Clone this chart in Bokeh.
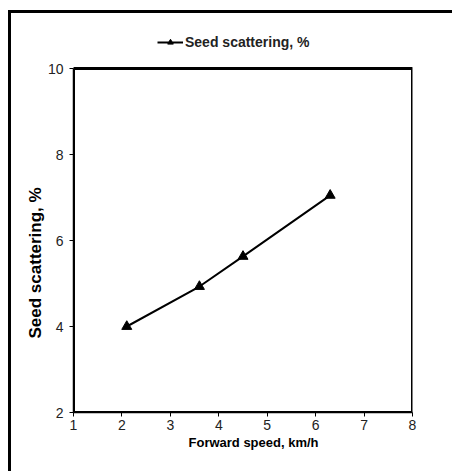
from bokeh.plotting import figure
from bokeh.models import Legend, LegendItem, FixedTicker, Range1d, Title
from bokeh.embed import file_html
from bokeh.resources import INLINE

speed = [2.1, 3.6, 4.5, 6.3]
scattering = [4.0, 4.93, 5.63, 7.05]
x_ticks = [1, 2, 3, 4, 5, 6, 7, 8]
y_ticks = [2, 4, 6, 8, 10]
x_label = "Forward speed, km/h"
y_label = "Seed scattering, %"
series_name = "Seed scattering, %"

SANS = "'Liberation Sans', Arial, sans-serif"

# frame extends above the y=10 line to host the legend (axis bounded to 2..10)
p = figure(width=444, height=461, output_backend="svg", toolbar_location=None,
           x_range=Range1d(x_ticks[0], x_ticks[-1]), y_range=Range1d(y_ticks[0], 10.814),
           min_border_left=62, min_border_right=43, min_border_top=20, min_border_bottom=62)
p.styles = {"border-left": "3px solid black", "border-top": "3px solid black",
            "margin-left": "8px", "margin-top": "10px"}

p.grid.visible = False
p.outline_line_color = None
p.background_fill_color = "white"
p.border_fill_color = "white"

# plot box
p.quad(left=[x_ticks[0]], right=[x_ticks[-1]], bottom=[y_ticks[0]], top=[y_ticks[-1]],
       fill_color=None, line_color="black", line_width=3)

line = p.line(speed, scattering, line_color="black", line_width=2)
pts = p.scatter(speed, scattering, marker="triangle", size=10, fill_color="black", line_color="black")

for ax in (p.xaxis[0], p.yaxis[0]):
    ax.axis_line_color = "black"
    ax.axis_line_width = 1.5
    ax.major_tick_line_color = "black"
    ax.major_tick_out = 4
    ax.major_tick_in = 0
    ax.minor_tick_line_color = None
    ax.major_label_text_font = SANS
    ax.major_label_text_font_size = "14px"
    ax.major_label_text_color = "#222222"

p.yaxis.bounds = (y_ticks[0], y_ticks[-1])
p.xaxis.ticker = FixedTicker(ticks=x_ticks)
p.yaxis.ticker = FixedTicker(ticks=y_ticks)
p.xaxis.major_label_standoff = 3
p.yaxis.major_label_standoff = 6

xt = Title(text=x_label, align="left", offset=115, standoff=0,
           text_font=SANS, text_font_size="13px", text_font_style="bold", text_color="black")
p.add_layout(xt, "below")
yt = Title(text=y_label, align="left", offset=74, standoff=0,
           text_font=SANS, text_font_size="17px", text_font_style="bold", text_color="black")
p.add_layout(yt, "left")

legend = Legend(items=[LegendItem(label=series_name, renderers=[line, pts])],
                orientation="horizontal", location=(84, 362),
                label_text_font=SANS, label_text_font_size="14px", label_text_font_style="bold",
                label_text_color="#222222",
                border_line_color=None, background_fill_alpha=0,
                glyph_width=26, glyph_height=14, label_standoff=2, padding=0, margin=0)
p.add_layout(legend, "center")

open("out.html", "w").write(file_html(p, INLINE))
